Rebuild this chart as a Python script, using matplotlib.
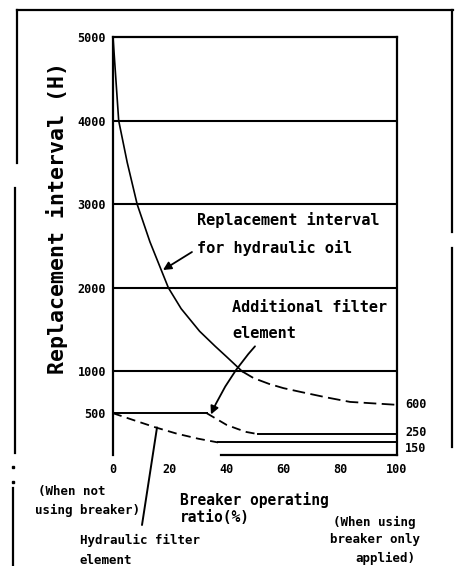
import matplotlib
matplotlib.use("Agg")
import matplotlib.pyplot as plt
from matplotlib.lines import Line2D

# ---- data -------------------------------------------------------------
# breaker operating ratio (%) vs. replacement interval (hours)
oil_pct = [0, 2, 5, 8.5, 13, 19.5, 24, 30.5, 36, 40, 45.5, 49.5, 55, 60, 66, 75, 83.5, 100]
oil_hours = [5000, 4000, 3500, 3000, 2550, 2000, 1750, 1480, 1300, 1175, 1000, 920, 850,
             800, 755, 690, 635, 600]

add_pct = [0, 33, 37, 40, 44, 47, 51, 100]
add_hours = [500, 500, 420, 360, 310, 275, 250, 250]

hyd_pct = [0, 7, 15, 22.5, 30, 37, 100]
hyd_hours = [500, 420, 330, 255, 195, 150, 150]

y_ticks = [500, 1000, 2000, 3000, 4000, 5000]
grid_levels = [1000, 2000, 3000, 4000]
x_ticks = [0, 20, 40, 60, 80, 100]

W, H = 456, 566
MONO = "DejaVu Sans Mono"


def fx(px):
    return px / W


def fy(py):
    return 1 - py / H


fig = plt.figure(figsize=(W / 100, H / 100), dpi=100)
fig.patch.set_facecolor("white")
ax = fig.add_axes([fx(113), fy(455), (397 - 113) / W, (455 - 37) / H])
ax.set_xlim(0, 100)
ax.set_ylim(0, 5000)

for s in ax.spines.values():
    s.set_linewidth(1.6)
    s.set_color("black")
ax.spines["bottom"].set_bounds(38, 100)

ax.set_xticks(x_ticks)
ax.set_xticklabels([str(v) for v in x_ticks])
ax.set_yticks(y_ticks)
ax.set_yticklabels([str(v) for v in y_ticks])
ax.tick_params(length=0, pad=5)
for lab in ax.get_xticklabels() + ax.get_yticklabels():
    lab.set_fontfamily(MONO)
    lab.set_fontweight("bold")
    lab.set_fontsize(8.5)
ax.tick_params(axis="x", pad=6)

for lv in grid_levels:
    ax.axhline(lv, color="black", lw=1.5)

# hydraulic oil curve: solid down to 1000 h, dashed beyond
k = oil_hours.index(1000)
ax.plot(oil_pct[:k + 1], oil_hours[:k + 1], color="black", lw=1.2)
ax.plot(oil_pct[k:], oil_hours[k:], color="black", lw=1.3, dashes=(7, 3))

# additional filter element
ax.plot(add_pct[:2], add_hours[:2], color="black", lw=1.4)
ax.plot(add_pct[1:-1], add_hours[1:-1], color="black", lw=1.3, dashes=(5, 3))
ax.plot(add_pct[-2:], add_hours[-2:], color="black", lw=1.4)

# hydraulic filter element
ax.plot(hyd_pct[:-1], hyd_hours[:-1], color="black", lw=1.3, dashes=(5, 3))
ax.plot(hyd_pct[-2:], hyd_hours[-2:], color="black", lw=1.4)

# end values on the right
tk = dict(fontfamily=MONO, fontweight="bold", fontsize=8.5, va="center",
          ha="left", annotation_clip=False, textcoords="offset points")
ax.annotate(str(oil_hours[-1]), xy=(100, oil_hours[-1]), xytext=(6, 0), **tk)
ax.annotate(str(add_hours[-1]), xy=(100, add_hours[-1]), xytext=(6, 1), **tk)
ax.annotate(str(hyd_hours[-1]), xy=(100, hyd_hours[-1]), xytext=(6, -4), **tk)

# annotations
txt = dict(fontfamily=MONO, fontweight="bold", ha="left", va="center")
fig.text(fx(197), fy(220), "Replacement interval", fontsize=11, **txt)
fig.text(fx(197), fy(248), "for hydraulic oil", fontsize=11, **txt)
ax.annotate("", xy=(17.6, 2213), xytext=(27.8, 2428),
            arrowprops=dict(arrowstyle="-|>", color="black", lw=1.3,
                            mutation_scale=12, shrinkA=0, shrinkB=0))

fig.text(fx(232), fy(308), "Additional filter", fontsize=11, **txt)
fig.text(fx(232), fy(333), "element", fontsize=11, **txt)
ax.annotate("", xy=(34.5, 485), xytext=(50, 1300),
            arrowprops=dict(arrowstyle="-|>", color="black", lw=1.3,
                            mutation_scale=12, shrinkA=0, shrinkB=0,
                            connectionstyle="arc3,rad=0.08"))

ax.annotate("", xy=(15.5, 330), xytext=(142, H - 525),
            textcoords="figure pixels", annotation_clip=False,
            arrowprops=dict(arrowstyle="-", color="black", lw=1.4,
                            shrinkA=0, shrinkB=0))

fig.text(fx(180), fy(500), "Breaker operating", fontsize=10.5, **txt)
fig.text(fx(180), fy(518), "ratio(%)", fontsize=10.5, **txt)

fig.text(fx(38), fy(492), "(When not", fontsize=9, **txt)
fig.text(fx(35), fy(510), "using breaker)", fontsize=9, **txt)

fig.text(fx(80), fy(540), "Hydraulic filter", fontsize=9, **txt)
fig.text(fx(80), fy(560), "element", fontsize=9, **txt)

fig.text(fx(333), fy(522), "(When using", fontsize=9, **txt)
fig.text(fx(330), fy(540), "breaker only", fontsize=9, **txt)
fig.text(fx(355), fy(558), "applied)", fontsize=9, **txt)

fig.text(fx(57), fy(218), "Replacement interval (H)", fontsize=15.5,
         fontfamily=MONO, fontweight="bold", rotation=90,
         ha="center", va="center")

# page border
border = [
    ((17, 453), (10, 10)),
    ((452, 452), (10, 232)),
    ((452, 452), (248, 447)),
    ((457, 457), (460, 566)),
    ((17, 17), (10, 163)),
    ((15, 15), (188, 453)),
    ((13, 13), (488, 566)),
]
for (x0, x1), (y0, y1) in border:
    fig.add_artist(Line2D([fx(x0), fx(x1)], [fy(y0), fy(y1)],
                          color="black", lw=1.6))
for yy in (467, 482):
    fig.add_artist(Line2D([fx(13)], [fy(yy)], marker="s", ms=1.8,
                          color="black", lw=0))

fig.savefig("out.png", dpi=100, facecolor="white")
